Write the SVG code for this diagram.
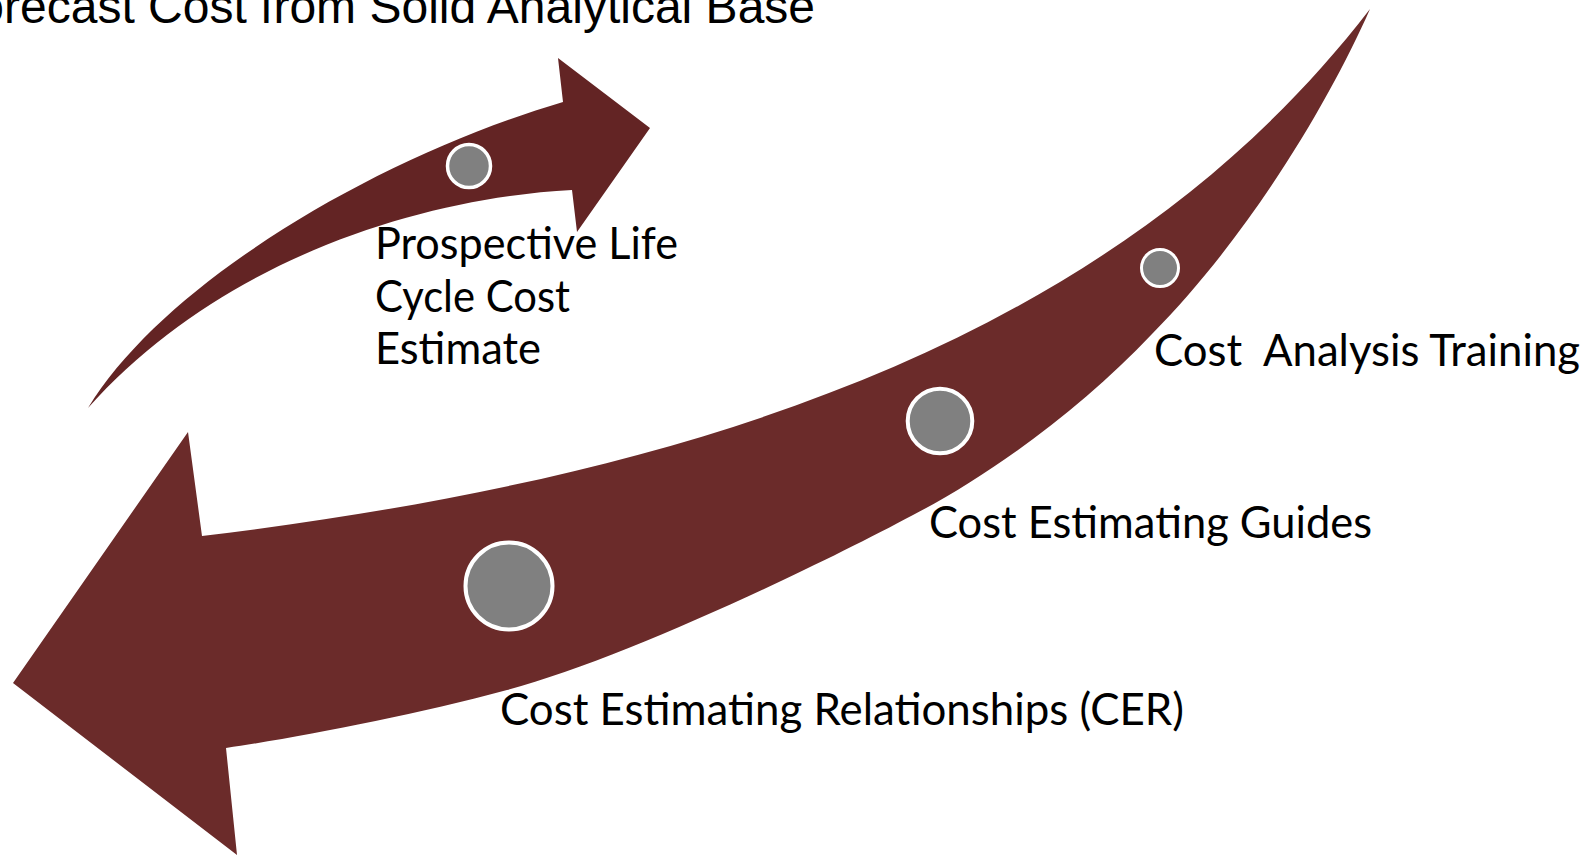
<svg xmlns="http://www.w3.org/2000/svg" width="1591" height="856" viewBox="0 0 1591 856">
  <style>
    .lbl { font-family: Lato, "Open Sans", "Liberation Sans", sans-serif; font-size: 44px; fill: #000; }
    .title { font-family: "Liberation Sans", Arial, sans-serif; font-size: 48px; fill: #000; }
    .dot { fill: #808080; stroke: #ffffff; }
  </style>
  <rect width="1591" height="856" fill="#ffffff"/>
  <text class="title" x="-52" y="23">Forecast Cost from Solid Analytical Base</text>
  <g id="connectors">
    <path id="big-arrow" fill="#6b2b2a" d="M 202,536 C 682,478 1110,347 1370,9 C 1330,100 1250,235 1152,334 C 1080,410 990,475 913,515 C 810,570 620,660 507,690 C 410,716 300,737 226,748 L 237,855 L 13,683 L 188,432 Z"/>
    <path id="small-arrow" fill="#632424" d="M 88,408 C 165,282 375,158 563,102 L 558,58 L 650,128 L 577,232 L 572,190 C 420,198 220,260 88,408 Z"/>
  </g>
  <g id="node-prospective">
    <circle class="dot" cx="469" cy="166" r="21.5" stroke-width="3.5"/>
    <text class="lbl" x="375" y="259" textLength="303" lengthAdjust="spacingAndGlyphs">Prospective Life</text>
    <text class="lbl" x="375" y="312" textLength="195" lengthAdjust="spacingAndGlyphs">Cycle Cost</text>
    <text class="lbl" x="375" y="364" textLength="166" lengthAdjust="spacingAndGlyphs">Estimate</text>
  </g>
  <g id="node-training">
    <circle class="dot" cx="1160" cy="268" r="18.5" stroke-width="3"/>
    <text class="lbl" x="1154" y="366" textLength="426" lengthAdjust="spacingAndGlyphs" xml:space="preserve">Cost  Analysis Training</text>
  </g>
  <g id="node-guides">
    <circle class="dot" cx="940" cy="421" r="32.3" stroke-width="4"/>
    <text class="lbl" x="929" y="538" textLength="443" lengthAdjust="spacingAndGlyphs">Cost Estimating Guides</text>
  </g>
  <g id="node-cer">
    <circle class="dot" cx="509" cy="586" r="43.5" stroke-width="4"/>
    <text class="lbl" x="500" y="725" textLength="684" lengthAdjust="spacingAndGlyphs">Cost Estimating Relationships (CER)</text>
  </g>
</svg>
